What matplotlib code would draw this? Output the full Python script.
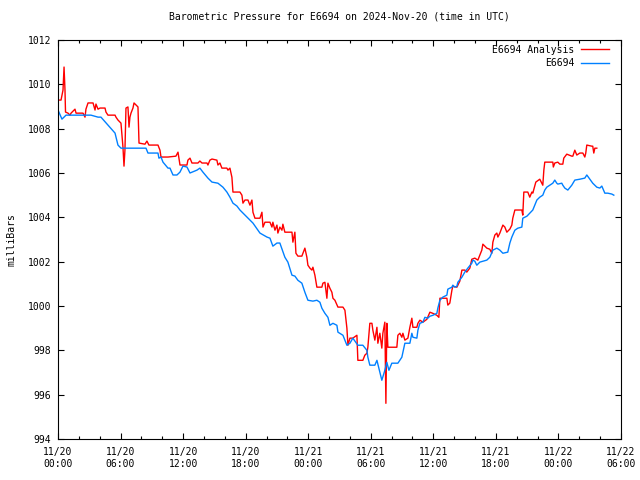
import matplotlib
matplotlib.use("Agg")
import matplotlib.pyplot as plt
from matplotlib.ticker import MultipleLocator

# ---- data (hours since 11/20 00:00 UTC, millibars) ----
obs_hours = [0, 0.38, 0.77, 2.11, 3.16, 3.84, 4.12, 4.79, 5.47, 5.75, 6.04, 7.0, 8.44, 8.63,
             9.59, 9.68, 9.88, 10.07, 10.55, 10.74, 11.03, 11.41, 11.70, 11.98, 12.37, 12.66,
             13.33, 13.61, 13.90, 14.38, 14.77, 15.34, 15.82, 16.20, 16.49, 16.78, 17.16, 17.45,
             18.12, 18.70, 19.37, 20.04, 20.33, 20.61, 21.0, 21.28, 21.76, 22.05, 22.44, 22.72,
             23.01, 23.39, 23.68, 23.97, 24.45, 24.83, 25.12, 25.31, 25.60, 25.89, 26.08, 26.37,
             26.75, 26.85, 27.33, 27.71, 28.0, 28.28, 28.76, 29.24, 29.63, 29.72, 29.91, 30.39,
             30.59, 30.87, 31.06, 31.35, 31.54, 31.74, 32.02, 32.60, 32.98, 33.08, 33.27, 33.75,
             33.94, 34.04, 34.42, 34.52, 34.71, 35.0, 35.19, 35.47, 35.67, 35.95, 36.34, 36.43,
             36.63, 36.91, 37.30, 37.39, 37.78, 37.87, 38.06, 38.26, 38.35, 38.74, 39.02, 39.31,
             39.69, 39.79, 39.98, 40.17, 40.46, 40.75, 41.13, 41.42, 41.71, 42.09, 42.38, 42.67,
             43.14, 43.34, 43.53, 43.82, 44.10, 44.49, 44.58, 44.97, 45.25, 45.54, 45.73, 45.93,
             46.21, 46.50, 46.69, 46.88, 47.17, 47.46, 47.65, 47.84, 47.94, 48.32, 48.42, 48.61,
             48.90, 49.28, 49.57, 50.05, 50.53, 50.72, 51.01, 51.29, 51.68, 51.97, 52.16, 52.45,
             52.73, 53.12, 53.31]
obs_mb = [1008.84, 1008.43, 1008.61, 1008.61, 1008.61, 1008.52, 1008.52, 1008.16, 1007.80,
          1007.26, 1007.12, 1007.12, 1007.12, 1006.90, 1006.90, 1006.67, 1006.72, 1006.49,
          1006.22, 1006.22, 1005.91, 1005.91, 1006.04, 1006.31, 1006.27, 1006.0, 1006.13,
          1006.22, 1006.04, 1005.77, 1005.59, 1005.54, 1005.36, 1005.14, 1004.91, 1004.64,
          1004.51, 1004.33, 1004.01, 1003.74, 1003.29, 1003.11, 1003.06, 1002.70, 1002.84,
          1002.84, 1002.20, 1001.98, 1001.39, 1001.35, 1001.16, 1001.03, 1000.62, 1000.26,
          1000.22, 1000.26, 1000.17, 999.90, 999.67, 999.49, 999.13, 999.22, 999.13, 998.82,
          998.68, 998.23, 998.32, 998.55, 998.23, 998.23, 998.0, 997.69, 997.33, 997.33, 997.55,
          997.01, 996.65, 997.10, 997.46, 997.10, 997.42, 997.42, 997.69, 997.91, 998.32, 998.32,
          998.77, 998.59, 998.55, 998.91, 999.22, 999.27, 999.49, 999.45, 999.54, 999.58, 999.67,
          999.90, 1000.26, 1000.40, 1000.49, 1000.76, 1000.85, 1000.94, 1000.85, 1000.89,
          1001.07, 1001.30, 1001.53, 1001.71, 1001.93, 1002.07, 1002.02, 1001.84, 1001.98,
          1002.02, 1002.07, 1002.20, 1002.52, 1002.61, 1002.52, 1002.38, 1002.43, 1002.84,
          1003.11, 1003.42, 1003.51, 1003.56, 1003.96, 1004.05, 1004.19, 1004.33, 1004.55,
          1004.78, 1004.91, 1005.0, 1005.23, 1005.36, 1005.45, 1005.54, 1005.68, 1005.54,
          1005.50, 1005.54, 1005.45, 1005.32, 1005.23, 1005.45, 1005.68, 1005.72, 1005.77,
          1005.91, 1005.72, 1005.54, 1005.36, 1005.32, 1005.41, 1005.09, 1005.09, 1005.05,
          1005.0]

ana_hours = [0, 0.29, 0.48, 0.58, 0.67, 0.72, 0.96, 1.15, 1.25, 1.63, 1.73, 2.40, 2.59, 2.68,
             2.88, 3.36, 3.55, 3.64, 3.84, 4.03, 4.51, 4.60, 4.79, 5.47, 5.56, 5.75, 6.04, 6.23,
             6.33, 6.42, 6.52, 6.71, 6.81, 6.90, 7.0, 7.19, 7.29, 7.48, 7.67, 7.77, 8.34, 8.53,
             8.72, 9.59, 9.78, 9.88, 10.55, 11.31, 11.51, 11.70, 12.37, 12.46, 12.66, 12.85,
             13.42, 13.61, 13.81, 14.29, 14.38, 14.57, 14.77, 15.24, 15.34, 15.53, 15.72, 16.20,
             16.30, 16.49, 16.68, 16.78, 17.45, 17.64, 17.74, 17.93, 18.22, 18.41, 18.60, 18.70,
             18.89, 19.37, 19.56, 19.66, 19.85, 20.33, 20.52, 20.61, 20.81, 21.0, 21.09, 21.28,
             21.48, 21.57, 21.76, 22.44, 22.53, 22.72, 22.82, 23.01, 23.39, 23.68, 23.87, 23.97,
             24.16, 24.35, 24.45, 24.64, 24.83, 25.31, 25.41, 25.60, 25.79, 25.89, 26.08, 26.27,
             26.37, 26.56, 26.85, 27.33, 27.52, 27.71, 27.81, 28.0, 28.28, 28.67, 28.76, 29.24,
             29.43, 29.63, 29.72, 29.91, 30.11, 30.20, 30.39, 30.59, 30.68, 30.87, 31.06, 31.16,
             31.35, 31.45, 31.54, 31.64, 32.50, 32.60, 32.79, 32.98, 33.08, 33.27, 33.56, 33.75,
             33.94, 34.04, 34.42, 34.52, 34.71, 35.0, 35.38, 35.67, 35.95, 36.34, 36.53, 36.63,
             37.30, 37.39, 37.58, 37.78, 37.87, 38.26, 38.54, 38.74, 39.02, 39.21, 39.50, 39.69,
             39.98, 40.27, 40.65, 40.75, 41.13, 41.42, 41.61, 41.71, 41.90, 42.09, 42.19, 42.38,
             42.67, 42.86, 43.05, 43.34, 43.53, 43.62, 43.82, 44.49, 44.58, 44.68, 45.06, 45.25,
             45.45, 45.54, 45.83, 46.21, 46.40, 46.50, 46.60, 46.69, 47.46, 47.51, 47.65, 47.94,
             48.13, 48.42, 48.51, 48.80, 49.28, 49.38, 49.57, 49.76, 50.05, 50.34, 50.53, 50.62,
             50.72, 51.20, 51.29, 51.39, 51.49, 51.68]
ana_mb = [1009.29, 1009.29, 1009.74, 1010.78, 1009.74, 1008.75, 1008.70, 1008.61, 1008.70,
          1008.88, 1008.70, 1008.70, 1008.52, 1008.88, 1009.16, 1009.16, 1008.84, 1009.11,
          1008.88, 1008.93, 1008.93, 1008.75, 1008.61, 1008.61, 1008.52, 1008.39, 1008.25,
          1007.17, 1006.31, 1007.03, 1008.93, 1008.98, 1008.07, 1008.52, 1008.70, 1008.93,
          1009.16, 1009.07, 1008.98, 1007.35, 1007.30, 1007.44, 1007.26, 1007.26, 1007.03,
          1006.72, 1006.72, 1006.76, 1006.94, 1006.36, 1006.36, 1006.58, 1006.67, 1006.45,
          1006.45, 1006.54, 1006.45, 1006.45, 1006.36, 1006.58, 1006.63, 1006.58, 1006.36,
          1006.45, 1006.22, 1006.22, 1006.13, 1006.22, 1005.81, 1005.14, 1005.14, 1005.0,
          1004.64, 1004.78, 1004.78, 1004.55, 1004.78, 1004.23, 1003.96, 1003.96, 1004.23,
          1003.56, 1003.78, 1003.78, 1003.56, 1003.78, 1003.42, 1003.65, 1003.29, 1003.56,
          1003.42, 1003.69, 1003.33, 1003.33, 1002.88, 1003.33, 1002.38, 1002.25, 1002.25,
          1002.61, 1002.20, 1001.84, 1001.71, 1001.62, 1001.75, 1001.39, 1000.85, 1000.85,
          1001.03, 1001.07, 1000.35, 1001.03, 1000.80, 1000.62, 1000.35, 1000.26, 999.95, 999.95,
          999.81, 999.0, 998.23, 998.55, 998.55, 998.68, 997.55, 997.55, 997.78, 997.87, 998.14,
          999.22, 999.22, 998.91, 998.46, 999.04, 998.32, 998.77, 998.10, 998.77, 999.27,
          995.61, 999.22, 998.14, 998.14, 998.68, 998.77, 998.59, 998.77, 998.46, 998.55,
          999.04, 999.45, 999.04, 999.04, 999.22, 999.36, 999.27, 999.40, 999.72, 999.67,
          999.58, 999.49, 1000.35, 1000.35, 1000.04, 1000.13, 1000.71, 1000.89, 1000.85,
          1001.12, 1001.62, 1001.62, 1001.53, 1001.71, 1002.11, 1002.16, 1002.07, 1002.52,
          1002.79, 1002.61, 1002.56, 1002.38, 1002.88, 1003.20, 1003.29, 1003.11, 1003.29,
          1003.65, 1003.56, 1003.33, 1003.47, 1003.65, 1003.96, 1004.33, 1004.33, 1004.10,
          1005.14, 1005.14, 1004.91, 1005.14, 1005.09, 1005.59, 1005.72, 1005.54, 1005.45,
          1006.13, 1006.49, 1006.49, 1006.27, 1006.45, 1006.49, 1006.40, 1006.40, 1006.67,
          1006.85, 1006.76, 1006.76, 1007.03, 1006.81, 1006.90, 1006.90, 1006.72, 1006.90,
          1007.26, 1007.21, 1007.21, 1006.90, 1007.12, 1007.12]

tick_hours = [0, 6, 12, 18, 24, 30, 36, 42, 48, 54]
tick_labels = ["11/20\n00:00", "11/20\n06:00", "11/20\n12:00", "11/20\n18:00",
               "11/21\n00:00", "11/21\n06:00", "11/21\n12:00", "11/21\n18:00",
               "11/22\n00:00", "11/22\n06:00"]
series_names = ["E6694 Analysis", "E6694"]
title = "Barometric Pressure for E6694 on 2024-Nov-20 (time in UTC)"

plt.rcParams['font.family'] = ['DejaVu Sans Mono']
plt.rcParams['font.size'] = 7

fig = plt.figure(figsize=(6.4, 4.8), dpi=100)
ax = fig.add_axes([58/640, 41/480, 563/640, 399/480])

ax.plot(ana_hours, ana_mb, color='#ff0000', lw=1.0, label=series_names[0])
ax.plot(obs_hours, obs_mb, color='#0080ff', lw=1.0, label=series_names[1])

ax.set_xlim(0, 54)
ax.set_ylim(994, 1012)
ax.set_xticks(tick_hours)
ax.set_xticklabels(tick_labels)
ax.xaxis.set_minor_locator(MultipleLocator(2))
ax.yaxis.set_major_locator(MultipleLocator(2))
ax.tick_params(which='both', direction='in', top=True, right=True, colors='black',
               width=0.8, labelsize=7)
ax.tick_params(which='major', length=4.5, pad=6)
ax.tick_params(which='minor', length=2.5)
ax.tick_params(axis='y', pad=5)
for s in ax.spines.values():
    s.set_linewidth(0.8)

ax.set_ylabel("milliBars", fontsize=7, labelpad=8)
ax.set_title(title, fontsize=7, pad=15)

leg = ax.legend(loc='upper right', bbox_to_anchor=(1 - 4/563, 1 + 3/399),
                frameon=False, markerfirst=False,
                handlelength=2.9, handletextpad=0.7, labelspacing=0.35,
                borderaxespad=0.4, fontsize=7)

fig.savefig("out.png", dpi=100)
